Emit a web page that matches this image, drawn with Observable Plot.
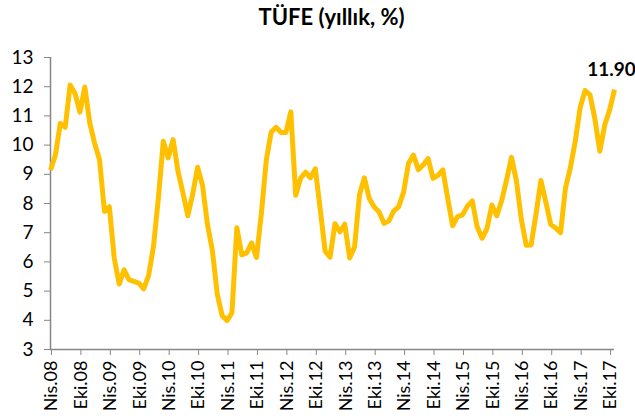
<!DOCTYPE html>
<html><head><meta charset="utf-8">
<script src="https://cdn.jsdelivr.net/npm/d3@7"></script>
<script src="https://cdn.jsdelivr.net/npm/@observablehq/plot@0.6"></script>
<style>
body{margin:0;background:#fff;font-family:Lato,"Open Sans",sans-serif;}
#title{height:40px;box-sizing:border-box;padding-left:28px;text-align:center;font-weight:bold;font-size:22px;line-height:34px;color:#000;}
svg{display:block;}
</style></head><body>
<div id="title">TÜFE (yıllık, %)</div>
<div id="chart"></div>
<script>
// Monthly annual CPI (%), Mar 2008 .. Oct 2017
const tufe = [
  9.15, 9.66, 10.74, 10.61, 12.06, 11.77, 11.13, 11.99, 10.76, 10.06,
  9.50, 7.73, 7.89, 6.13, 5.24, 5.73, 5.39, 5.33, 5.27, 5.08, 5.53, 6.53,
  8.19, 10.13, 9.56, 10.19, 9.10, 8.37, 7.58, 8.33, 9.24, 8.62, 7.29, 6.40,
  4.90, 4.16, 3.99, 4.26, 7.17, 6.24, 6.31, 6.65, 6.15, 7.66, 9.48, 10.45,
  10.61, 10.43, 10.43, 11.14, 8.28, 8.87, 9.07, 8.88, 9.19, 7.80, 6.37, 6.16,
  7.31, 7.03, 7.29, 6.13, 6.51, 8.30, 8.88, 8.17, 7.88, 7.71, 7.32, 7.40,
  7.75, 7.89, 8.39, 9.38, 9.66, 9.16, 9.32, 9.54, 8.86, 8.96, 9.15, 8.17,
  7.24, 7.55, 7.61, 7.91, 8.09, 7.20, 6.81, 7.14, 7.95, 7.58, 8.10, 8.81,
  9.58, 8.78, 7.46, 6.57, 6.58, 7.64, 8.79, 8.05, 7.28, 7.16, 7.00, 8.53,
  9.22, 10.13, 11.29, 11.87, 11.72, 10.90, 9.79, 10.68, 11.20, 11.90
];
const tickLabels = [
  "Nis.08","Eki.08","Nis.09","Eki.09","Nis.10","Eki.10","Nis.11","Eki.11",
  "Nis.12","Eki.12","Nis.13","Eki.13","Nis.14","Eki.14","Nis.15","Eki.15",
  "Nis.16","Eki.16","Nis.17","Eki.17"
];
const yTicks = [3, 4, 5, 6, 7, 8, 9, 10, 11, 12, 13];
const lastLabel = "11.90";

const data = tufe.map((v, i) => ({i, v}));
const last = data[data.length - 1];
const tickPos = tickLabels.map((_, k) => k * 6 + 0.2);
const labelOf = new Map(tickPos.map((p, k) => [p, tickLabels[k]]));
const axisGray = "#868686";

const chart = Plot.plot({
  width: 635,
  height: 378,
  marginLeft: 50,
  marginRight: 21,
  marginTop: 17,
  marginBottom: 69,
  x: {domain: [0, tufe.length - 1], axis: null},
  y: {domain: [3, 13], axis: null},
  style: {fontFamily: "Lato, 'Open Sans', sans-serif", color: "#000", background: "#fff"},
  marks: [
    Plot.axisY({ticks: yTicks, label: null, tickSize: 6, tickPadding: 11, stroke: axisGray, fill: "#000", fontSize: 19, tickFormat: d => d}),
    Plot.axisX({ticks: tickPos, label: null, tickSize: 6, tickPadding: 5, tickRotate: -90, stroke: axisGray, fill: "#000", fontSize: 18, tickFormat: d => labelOf.get(d)}),
    Plot.ruleX([0], {stroke: axisGray, strokeWidth: 1.5}),
    Plot.ruleY([3], {stroke: axisGray, strokeWidth: 1.5}),
    Plot.line(data, {x: "i", y: "v", stroke: "#FFC000", strokeWidth: 5, strokeLinejoin: "round", strokeLinecap: "butt"}),
    Plot.text([last], {x: "i", y: "v", text: () => lastLabel, dy: -20, dx: -3, fontSize: 19, fontWeight: "bold", fill: "#000"})
  ]
});
document.getElementById("chart").appendChild(chart);
</script>
</body></html>
